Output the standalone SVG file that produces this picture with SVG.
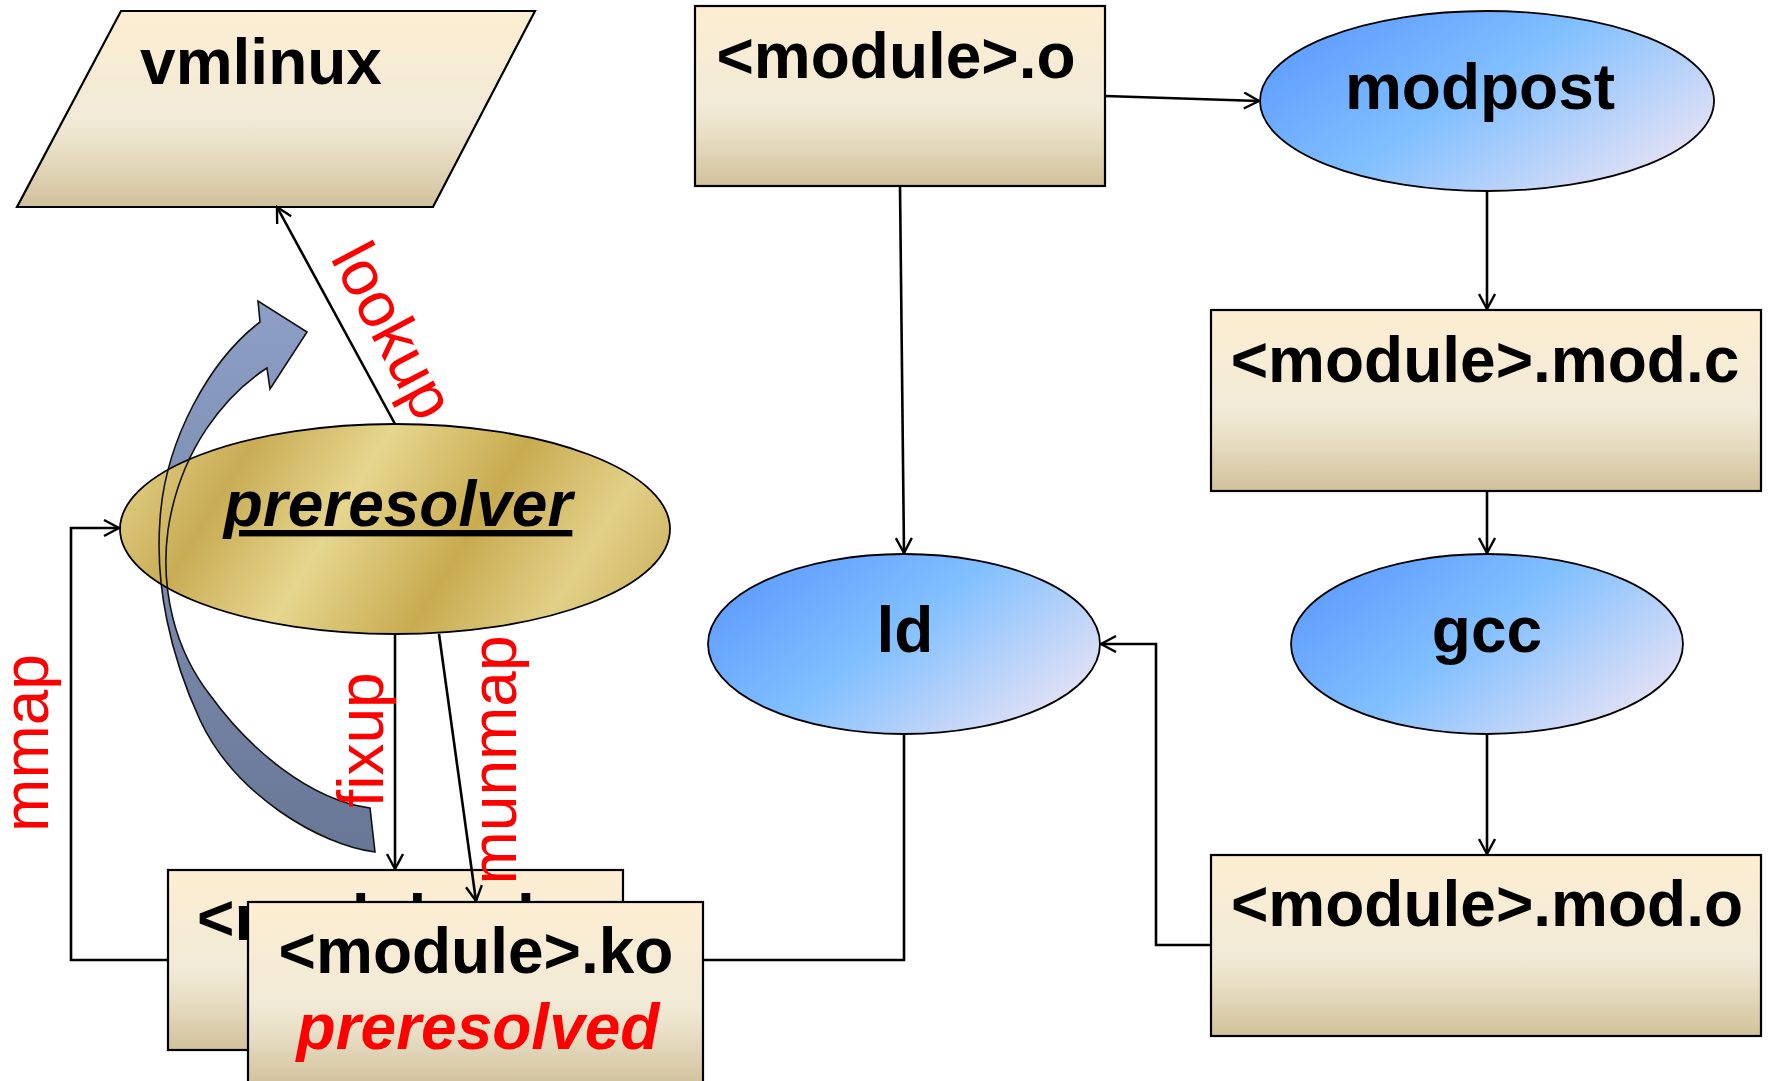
<svg xmlns="http://www.w3.org/2000/svg" width="1768" height="1081" viewBox="0 0 1768 1081">
<style>
.box{stroke:#000;stroke-width:2.2;fill:url(#boxg)}
.blue{stroke:#000;stroke-width:1.8;fill:url(#blueg)}
.lbl{font-family:"Liberation Sans",Arial,sans-serif;font-weight:bold;font-size:64px;fill:#000;text-anchor:middle}
.red{font-family:"Liberation Sans",Arial,sans-serif;font-size:64px;fill:#ff0000;text-anchor:middle}
.con{stroke:#000;stroke-width:2.6;fill:none}
</style>
<defs>
<linearGradient id="boxg" x1="0" y1="0" x2="0" y2="1">
<stop offset="0" stop-color="#fdeed2"/>
<stop offset="0.55" stop-color="#f1ead7"/>
<stop offset="0.72" stop-color="#e8dec4"/>
<stop offset="1" stop-color="#d1c19c"/>
</linearGradient>
<linearGradient id="blueg" x1="0" y1="0.2" x2="1" y2="0.8">
<stop offset="0" stop-color="#5c9aff"/>
<stop offset="0.45" stop-color="#80bfff"/>
<stop offset="1" stop-color="#ece4f4"/>
</linearGradient>
<linearGradient id="goldg" gradientUnits="userSpaceOnUse" x1="150" y1="400" x2="620" y2="690">
<stop offset="0" stop-color="#e3d28a"/>
<stop offset="0.2" stop-color="#c9ac55"/>
<stop offset="0.4" stop-color="#e6d68e"/>
<stop offset="0.62" stop-color="#c8ab50"/>
<stop offset="0.82" stop-color="#e2d088"/>
<stop offset="1" stop-color="#c9ae58"/>
</linearGradient>
<linearGradient id="arrg" x1="0" y1="0" x2="0" y2="1">
<stop offset="0" stop-color="#8d9fc6"/>
<stop offset="1" stop-color="#697796"/>
</linearGradient>
<marker id="ah" markerUnits="userSpaceOnUse" markerWidth="18" markerHeight="20" refX="16" refY="9" orient="auto">
<path d="M1,1 L16,9 L1,17" fill="none" stroke="#000" stroke-width="2.4"/>
</marker>
</defs>

<g id="vmlinux">
<polygon points="121,11 535,11 433,207 17,207" class="box"/>
<text x="261" y="84" class="lbl">vmlinux</text>
</g>

<g id="module-o">
<rect x="695" y="6" width="410" height="180" class="box"/>
<text x="896" y="78" class="lbl">&lt;module&gt;.o</text>
</g>

<g id="modpost">
<ellipse cx="1487" cy="101" rx="227" ry="90" class="blue"/>
<text x="1480" y="109" class="lbl">modpost</text>
</g>

<g id="module-mod-c">
<rect x="1211" y="310" width="550" height="181" class="box"/>
<text x="1485" y="382" class="lbl">&lt;module&gt;.mod.c</text>
</g>

<g id="gcc">
<ellipse cx="1487" cy="644" rx="196" ry="90" class="blue"/>
<text x="1487" y="652" class="lbl">gcc</text>
</g>

<g id="module-mod-o">
<rect x="1211" y="855" width="550" height="181" class="box"/>
<text x="1487" y="926" class="lbl">&lt;module&gt;.mod.o</text>
</g>

<g id="ld">
<ellipse cx="904" cy="644" rx="196" ry="90" class="blue"/>
<text x="905" y="652" class="lbl">ld</text>
</g>

<g id="curved-arrow-fill">
<path d="M375,852 C320,845 235,795 200,720 C170,655 155,585 160,520 C165,440 210,360 260,322 L258,301 L307,332 L270,389 L267,368 C225,395 180,450 168,530 C160,590 175,650 210,695 C250,750 310,800 370,808 Z" fill="url(#arrg)" stroke="none"/>
</g>

<g id="preresolver">
<ellipse cx="395" cy="529" rx="275" ry="105" fill="url(#goldg)" stroke="#000" stroke-width="1.8"/>
<text x="398" y="526" class="lbl" font-style="italic" text-decoration="underline">preresolver</text>
</g>

<g id="curved-arrow-outline">
<path d="M375,852 C320,845 235,795 200,720 C170,655 155,585 160,520 C165,440 210,360 260,322 L258,301 L307,332 L270,389 L267,368 C225,395 180,450 168,530 C160,590 175,650 210,695 C250,750 310,800 370,808 Z" fill="none" stroke="#111" stroke-width="1.6"/>
</g>

<g id="module-ko-back">
<rect x="168" y="870" width="455" height="180" class="box"/>
<text x="197" y="940" class="lbl" style="text-anchor:start">&lt;module&gt;.ko</text>
</g>

<g id="module-ko-front">
<rect x="248" y="902" width="455" height="184" class="box"/>
<text x="476" y="973" class="lbl">&lt;module&gt;.ko</text>
<text x="478" y="1049" class="lbl" font-style="italic" style="fill:#ff0000">preresolved</text>
</g>

<g id="connectors">
<line x1="395" y1="424" x2="277" y2="207" class="con" marker-end="url(#ah)"/>
<polyline points="168,960 71,960 71,528 119,528" class="con" marker-end="url(#ah)"/>
<line x1="395" y1="634" x2="395" y2="869" class="con" marker-end="url(#ah)"/>
<line x1="439" y1="634" x2="476" y2="901" class="con" marker-end="url(#ah)"/>
<polyline points="904,734 904,960 703,960" class="con"/>
<line x1="900" y1="186" x2="904" y2="553" class="con" marker-end="url(#ah)"/>
<line x1="1105" y1="96" x2="1259" y2="101" class="con" marker-end="url(#ah)"/>
<line x1="1487" y1="191" x2="1487" y2="309" class="con" marker-end="url(#ah)"/>
<line x1="1487" y1="491" x2="1487" y2="553" class="con" marker-end="url(#ah)"/>
<line x1="1487" y1="734" x2="1487" y2="854" class="con" marker-end="url(#ah)"/>
<polyline points="1211,945 1156,945 1156,644 1101,644" class="con" marker-end="url(#ah)"/>
</g>

<g id="labels">
<text class="red" transform="translate(374,341) rotate(62)">lookup</text>
<text class="red" transform="translate(48,743) rotate(-90)">mmap</text>
<text class="red" transform="translate(383,740) rotate(-90)">fixup</text>
<text class="red" transform="translate(516,760) rotate(-90)">munmap</text>
</g>
</svg>
